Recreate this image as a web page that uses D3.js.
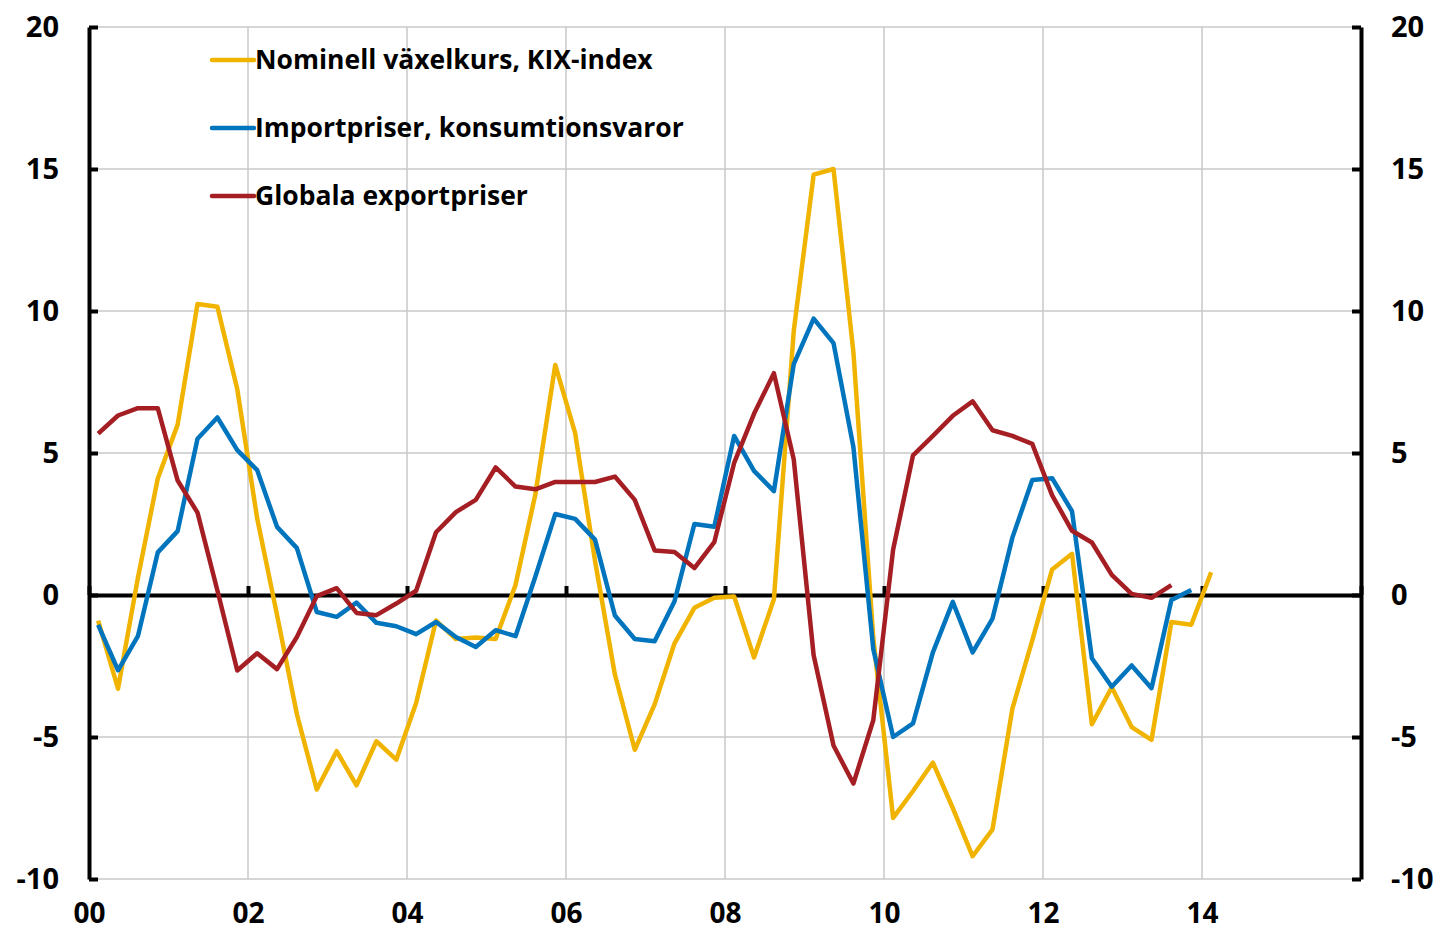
<!DOCTYPE html>
<html>
<head>
<meta charset="utf-8">
<script src="https://cdn.jsdelivr.net/npm/d3@7"></script>
<style>
  body { margin: 0; background: #fff; }
  text { font-family: "Open Sans", sans-serif; font-weight: bold; fill: #000; font-variant-ligatures: none; }
</style>
</head>
<body>
<div id="chart"></div>
<script>
// quarterly data, 2000 Q1 onwards
var startYear = 2000;

var seriesNames = ["Nominell växelkurs, KIX-index", "Importpriser, konsumtionsvaror", "Globala exportpriser"];
var seriesColors = ["#f0b400", "#0075be", "#a51e23"];

var kix = [-0.9, -3.3, 0.6, 4.1, 6.0, 10.25, 10.15, 7.25, 2.7, -0.7, -4.2, -6.85, -5.5, -6.7, -5.15, -5.8,
    -3.8, -0.9, -1.55, -1.5, -1.55, 0.35, 3.55, 8.1, 5.7, 1.2, -2.8, -5.45, -3.85, -1.7, -0.45, -0.1,
    -0.05, -2.2, -0.15, 9.3, 14.8, 15.0, 8.55, -1.5, -7.85, -6.9, -5.9, -7.5, -9.2, -8.25, -4.0, -1.6,
    0.9, 1.45, -4.55, -3.25, -4.65, -5.1, -0.95, -1.05, 0.8];

var importpriser = [-1.05, -2.65, -1.45, 1.5, 2.25, 5.5, 6.25, 5.1, 4.4, 2.4, 1.65, -0.6, -0.77, -0.27, -0.98, -1.1,
    -1.38, -0.95, -1.48, -1.83, -1.24, -1.45, 0.65, 2.85, 2.68, 1.95, -0.72, -1.55, -1.63, -0.22, 2.5, 2.4,
    5.6, 4.37, 3.66, 8.13, 9.73, 8.87, 5.21, -1.9, -5.0, -4.52, -2.02, -0.24, -2.02, -0.83, 2.02, 4.05,
    4.11, 2.95, -2.23, -3.23, -2.48, -3.28, -0.18, 0.18];

var exportpriser = [5.68, 6.32, 6.58, 6.58, 4.03, 2.9, 0.16, -2.66, -2.05, -2.61, -1.48, -0.04, 0.24, -0.63, -0.71, -0.3,
    0.15, 2.21, 2.92, 3.35, 4.49, 3.82, 3.72, 3.98, 3.98, 3.98, 4.17, 3.35, 1.57, 1.51, 0.95, 1.86,
    4.65, 6.38, 7.81, 4.77, -2.12, -5.3, -6.64, -4.41, 1.6, 4.92, 5.6, 6.31, 6.82, 5.8, 5.6, 5.32,
    3.51, 2.26, 1.85, 0.71, 0.04, -0.1, 0.35];

var xTicks = [2000, 2002, 2004, 2006, 2008, 2010, 2012, 2014];
var xTickLabels = ["00", "02", "04", "06", "08", "10", "12", "14"];
var xGrid = [2002, 2004, 2006, 2008, 2010, 2012, 2014, 2016];
var yTicks = [-10, -5, 0, 5, 10, 15, 20];

var margin = {top: 27, right: 80, bottom: 54, left: 89},
    width = 1441 - margin.left - margin.right,
    height = 933 - margin.top - margin.bottom;

var x = d3.scaleLinear().domain([2000, 2016]).range([0, width]);
var y = d3.scaleLinear().domain([-10, 20]).range([height, 0]);

// quarter i plotted at mid-quarter
function qx(i) { return x(startYear + i / 4 + 0.115); }

var line = d3.line()
    .x(function(d, i) { return qx(i); })
    .y(function(d) { return y(d); });

var svg = d3.select("#chart")
    .append("svg")
        .attr("width", 1441)
        .attr("height", 933)
    .append("g")
        .attr("transform", "translate(" + margin.left + "," + margin.top + ")");

// grid
svg.selectAll(".hgrid")
    .data(yTicks)
    .enter()
    .append("line")
        .attr("x1", 0).attr("x2", width)
        .attr("y1", function(d) { return y(d); })
        .attr("y2", function(d) { return y(d); })
        .attr("stroke", "#c8c8c8")
        .attr("stroke-width", 1.5);

svg.selectAll(".vgrid")
    .data(xGrid)
    .enter()
    .append("line")
        .attr("x1", function(d) { return x(d); })
        .attr("x2", function(d) { return x(d); })
        .attr("y1", 0).attr("y2", height)
        .attr("stroke", "#c8c8c8")
        .attr("stroke-width", 1.5);

// x axis on the zero line, ticks pointing up
var xAxis = svg.append("g")
    .attr("transform", "translate(0," + y(0) + ")")
    .call(d3.axisBottom(x).tickValues(xTicks.concat([2016])).tickFormat("").tickSizeInner(-9).tickSizeOuter(0));
xAxis.select(".domain").attr("stroke", "#000").attr("stroke-width", 4);
xAxis.selectAll(".tick line").attr("stroke", "#000").attr("stroke-width", 4);

// x labels at the bottom
var xLabels = svg.append("g")
    .attr("transform", "translate(0," + height + ")")
    .call(d3.axisBottom(x).tickValues(xTicks).tickFormat(function(d, i) { return xTickLabels[i]; }).tickSize(0).tickPadding(24));
xLabels.select(".domain").remove();
xLabels.selectAll("text").attr("font-size", 28).attr("font-family", null);

// left and right y axes, plain hyphen for minus
var fmt = function(d) { return String(d); };
var yLeft = svg.append("g")
    .call(d3.axisLeft(y).tickValues(yTicks).tickFormat(fmt).tickSizeInner(-9).tickSizeOuter(0).tickPadding(30));
var yRight = svg.append("g")
    .attr("transform", "translate(" + width + ",0)")
    .call(d3.axisRight(y).tickValues(yTicks).tickFormat(fmt).tickSizeInner(-9).tickSizeOuter(0).tickPadding(30));

[yLeft, yRight].forEach(function(g) {
    g.select(".domain").attr("stroke", "#000").attr("stroke-width", 4);
    g.selectAll(".tick line").attr("stroke", "#000").attr("stroke-width", 4);
    g.selectAll("text").attr("font-size", 29).attr("font-family", null);
});

// series
var seriesData = [kix, importpriser, exportpriser];

svg.selectAll(".series")
    .data(seriesData)
    .enter()
    .append("path")
        .attr("d", function(d) { return line(d); })
        .attr("fill", "none")
        .attr("stroke", function(d, i) { return seriesColors[i]; })
        .attr("stroke-width", 4.5)
        .attr("stroke-linejoin", "round");

// legend
var legend = svg.selectAll(".legend")
    .data(seriesNames)
    .enter()
    .append("g")
        .attr("transform", function(d, i) { return "translate(123," + (33 + i * 68) + ")"; });

legend.append("line")
    .attr("x1", 0).attr("x2", 42)
    .attr("stroke", function(d, i) { return seriesColors[i]; })
    .attr("stroke-width", 4.5)
    .attr("stroke-linecap", "round");

legend.append("text")
    .attr("x", 43)
    .attr("dy", "0.35em")
    .attr("font-size", 26.5)
    .text(function(d) { return d; });
</script>
</body>
</html>
